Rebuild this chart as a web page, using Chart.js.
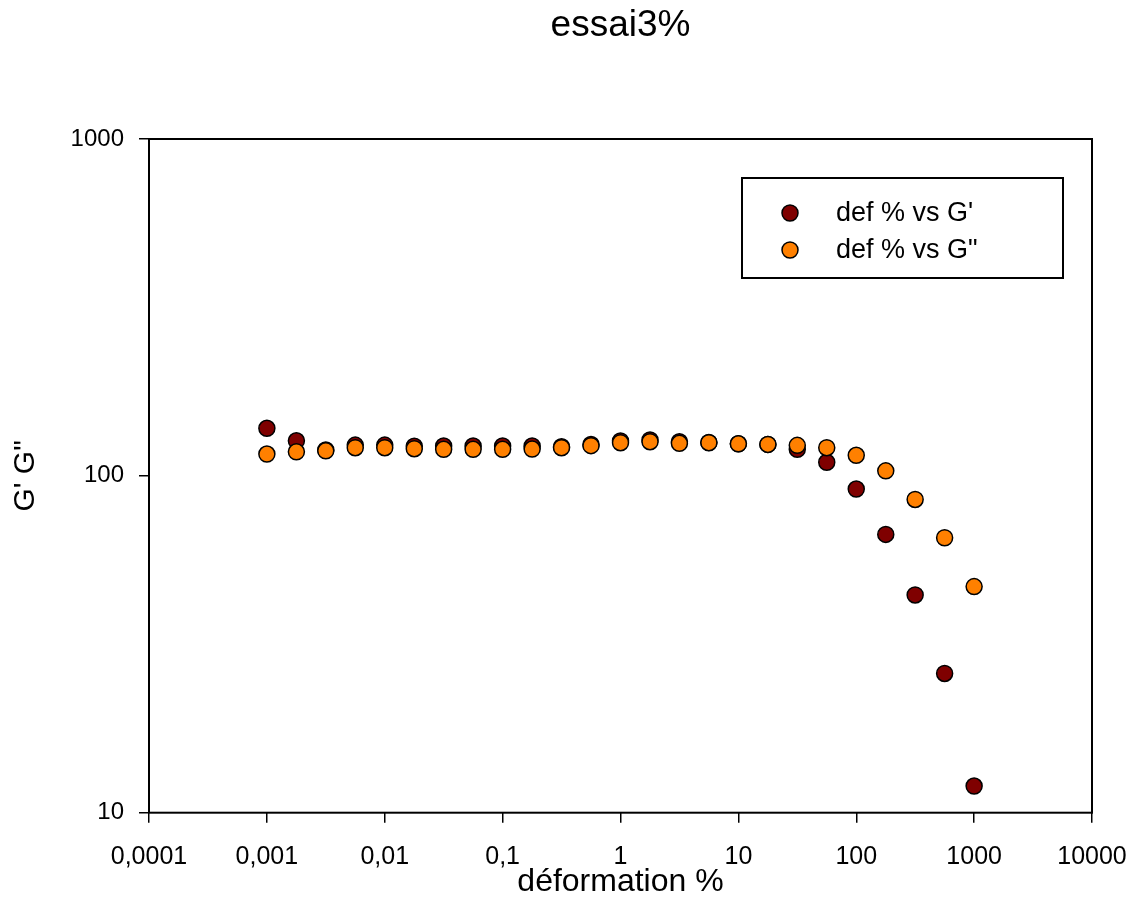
<!DOCTYPE html>
<html>
<head>
<meta charset="utf-8">
<script src="https://cdn.jsdelivr.net/npm/chart.js@4/dist/chart.umd.min.js"></script>
<style>
html,body{margin:0;padding:0;background:#fff;}
canvas{display:block;}
</style>
</head>
<body>
<canvas id="c" width="1135" height="921"></canvas>
<script>
// ---- data ----
const strain = [0.001, 0.00178, 0.00316, 0.00562, 0.01, 0.0178, 0.0316, 0.0562, 0.1, 0.178, 0.316, 0.562,
                1, 1.78, 3.16, 5.62, 10, 17.8, 31.6, 56.2, 100, 178, 316, 562, 1000];
const gPrime = [138.4, 127.1, 119.3, 123.4, 123.4, 122.4, 122.6, 122.6, 122.6, 122.6, 122.0, 124.0,
                126.9, 127.8, 126.3, 125.7, 124.5, 124.0, 119.9, 109.7, 91.4, 67.0, 44.3, 25.9, 12.0];
const gDouble = [116.1, 117.9, 118.7, 121.2, 121.2, 120.4, 119.9, 119.9, 119.9, 120.1, 121.2, 122.9,
                 125.4, 126.3, 124.9, 125.4, 124.5, 124.0, 123.2, 121.2, 115.1, 103.5, 85.1, 65.5, 46.9];
const xTickValues = [0.0001, 0.001, 0.01, 0.1, 1, 10, 100, 1000, 10000];
const xTickLabels = ['0,0001', '0,001', '0,01', '0,1', '1', '10', '100', '1000', '10000'];
const yTickValues = [10, 100, 1000];
const yTickLabels = ['10', '100', '1000'];
const seriesLabels = ["def % vs G'", 'def % vs G"'];
const seriesColors = ['#7f0000', '#ff8000'];
const chartTitle = 'essai3%';
const xTitle = 'déformation %';
const yTitle = "G' G\"";

const FONT = "'Liberation Sans', Arial, Helvetica, sans-serif";

const framePlugin = {
  id: 'frame',
  afterDraw(chart) {
    const {ctx, chartArea: a} = chart;
    ctx.save();
    ctx.strokeStyle = '#000';
    ctx.lineWidth = 2;
    ctx.strokeRect(a.left, a.top, a.right - a.left, a.bottom - a.top);
    // chart title, centred over the plot area
    ctx.fillStyle = '#000';
    ctx.font = '37px ' + FONT;
    ctx.textAlign = 'center';
    ctx.textBaseline = 'middle';
    ctx.fillText(chartTitle, (a.left + a.right) / 2, 26);
    ctx.restore();
  }
};

const legendBoxPlugin = {
  id: 'legendBox',
  afterDraw(chart) {
    const ctx = chart.ctx;
    const bx = 742, by = 178, bw = 321, bh = 100;
    ctx.save();
    ctx.fillStyle = '#fff';
    ctx.fillRect(bx, by, bw, bh);
    ctx.strokeStyle = '#000';
    ctx.lineWidth = 2;
    ctx.strokeRect(bx, by, bw, bh);
    chart.data.datasets.forEach((ds, i) => {
      const y = 213 + i * 37;
      ctx.beginPath();
      ctx.arc(790, y, 8, 0, Math.PI * 2);
      ctx.fillStyle = ds.backgroundColor;
      ctx.fill();
      ctx.lineWidth = 1.5;
      ctx.strokeStyle = '#000';
      ctx.stroke();
      ctx.fillStyle = '#000';
      ctx.font = '27px ' + FONT;
      ctx.textBaseline = 'middle';
      ctx.textAlign = 'left';
      ctx.fillText(ds.label, 836, y + 1);
    });
    ctx.restore();
  }
};

function pts(ys) { return strain.map((x, i) => ({x: x, y: ys[i]})); }

new Chart(document.getElementById('c'), {
  type: 'scatter',
  data: {
    datasets: [
      {label: seriesLabels[0], data: pts(gPrime), backgroundColor: seriesColors[0], borderColor: '#000',
       borderWidth: 1.5, pointRadius: 8, pointHoverRadius: 8, order: 1},
      {label: seriesLabels[1], data: pts(gDouble), backgroundColor: seriesColors[1], borderColor: '#000',
       borderWidth: 1.5, pointRadius: 8, pointHoverRadius: 8, order: 0}
    ]
  },
  options: {
    responsive: false,
    animation: false,
    layout: {padding: {left: 0, top: 139, right: 43, bottom: 0}},
    plugins: {
      legend: {display: false},
      tooltip: {enabled: false},
      title: {display: false}
    },
    scales: {
      x: {
        type: 'logarithmic', position: 'bottom', min: 0.0001, max: 10000,
        afterBuildTicks: s => { s.ticks = xTickValues.map(v => ({value: v})); },
        afterFit: s => { s.height = 921 - 812.7; s.paddingLeft = 0; s.paddingRight = 0; },
        ticks: {
          color: '#000', font: {family: FONT, size: 25}, padding: 19, maxRotation: 0, autoSkip: false,
          callback: (v) => { const i = xTickValues.findIndex(t => Math.abs(Math.log10(t) - Math.log10(v)) < 1e-6); return i >= 0 ? xTickLabels[i] : ''; }
        },
        grid: {display: true, drawOnChartArea: false, drawTicks: true, tickLength: 10, color: '#000', lineWidth: 1.5},
        border: {display: false},
        title: {display: true, text: xTitle, color: '#000', font: {family: FONT, size: 32, lineHeight: 1.2}, padding: {top: 0, bottom: 20}}
      },
      y: {
        type: 'logarithmic', position: 'left', min: 10, max: 1000,
        afterBuildTicks: s => { s.ticks = yTickValues.map(v => ({value: v})); },
        afterFit: s => { s.width = 149; s.paddingTop = 0; s.paddingBottom = 0; },
        ticks: {
          color: '#000', font: {family: FONT, size: 24}, padding: 15, autoSkip: false,
          callback: (v) => { const i = yTickValues.findIndex(t => Math.abs(Math.log10(t) - Math.log10(v)) < 1e-6); return i >= 0 ? yTickLabels[i] : ''; }
        },
        grid: {display: true, drawOnChartArea: false, drawTicks: true, tickLength: 10, color: '#000', lineWidth: 1.5},
        border: {display: false},
        title: {display: true, text: yTitle, color: '#000', font: {family: FONT, size: 30, lineHeight: 1.2}, padding: {top: 8, bottom: 0}}
      }
    }
  },
  plugins: [framePlugin, legendBoxPlugin]
});
</script>
</body>
</html>
